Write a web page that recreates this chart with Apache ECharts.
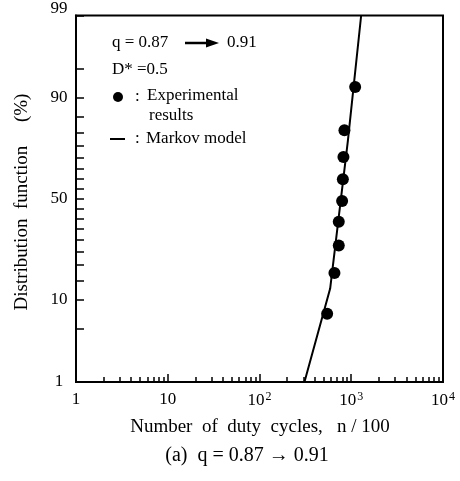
<!DOCTYPE html>
<html>
<head>
<meta charset="utf-8">
<script src="https://cdn.jsdelivr.net/npm/echarts@6/dist/echarts.min.js"></script>
<style>
  html, body { margin: 0; padding: 0; background: #fff; }
  #chart { width: 460px; height: 481px; }
</style>
</head>
<body>
<div id="chart"></div>
<script>
// 实验数据 (横轴: n/100, 纵轴: 分布函数 %)
const cyclesExp = [546, 656, 731, 731, 795, 810, 822, 843, 1103];
const probExp = [7.2, 17.3, 27.6, 38.5, 48.9, 59.8, 70.2, 80.8, 92.2];
// Markov model 曲线
const cyclesModel = [309, 589, 918, 1282];
const probModel = [1, 12.7, 76.8, 99];
// 刻度
const yLabelValues = [1, 10, 50, 90, 99];
const yTickValues = [1, 5, 10, 15, 20, 25, 30, 35, 40, 45, 50, 55, 60, 65, 70, 75, 80, 85, 90, 95, 99];
const xLabelValues = [1, 10, 100, 1000, 10000];
const xMinorTicks = [2, 3, 4, 5, 6, 7, 8, 9, 20, 30, 40, 50, 60, 70, 80, 90,
    200, 300, 400, 500, 600, 700, 800, 900, 2000, 3000, 4000, 5000, 6000, 7000, 8000, 9000];

const FONT = '"Liberation Serif", "DejaVu Serif", serif';

// 正态分布逆函数 (概率纸坐标)
function probit(pct) {
    const p = pct / 100;
    const a = [-39.69683028665376, 220.9460984245205, -275.9285104469687, 138.3577518672690, -30.66479806614716, 2.506628277459239];
    const b = [-54.47609879822406, 161.5858368580409, -155.6989798598866, 66.80131188771972, -13.28068155288572];
    const c = [-0.007784894002430293, -0.3223964580411365, -2.400758277161838, -2.549732539343734, 4.374664141464968, 2.938163982698783];
    const d = [0.007784695709041462, 0.3224671290700398, 2.445134137142996, 3.754408661907416];
    const pl = 0.02425;
    let q, r;
    if (p < pl) {
        q = Math.sqrt(-2 * Math.log(p));
        return (((((c[0]*q+c[1])*q+c[2])*q+c[3])*q+c[4])*q+c[5]) / ((((d[0]*q+d[1])*q+d[2])*q+d[3])*q+1);
    } else if (p <= 1 - pl) {
        q = p - 0.5; r = q * q;
        return (((((a[0]*r+a[1])*r+a[2])*r+a[3])*r+a[4])*r+a[5])*q / (((((b[0]*r+b[1])*r+b[2])*r+b[3])*r+b[4])*r+1);
    } else {
        q = Math.sqrt(-2 * Math.log(1 - p));
        return -(((((c[0]*q+c[1])*q+c[2])*q+c[3])*q+c[4])*q+c[5]) / ((((d[0]*q+d[1])*q+d[2])*q+d[3])*q+1);
    }
}

const zMin = probit(1), zMax = probit(99);
const expData = cyclesExp.map((v, i) => [v, probit(probExp[i])]);
const modelData = cyclesModel.map((v, i) => [v, probit(probModel[i])]);

function textEl(x, y, text, size, align) {
    return {
        type: 'text', x: x, y: y,
        style: { text: text, fontSize: size, fontFamily: FONT, fill: '#000',
                 textAlign: align || 'left', textVerticalAlign: 'middle' }
    };
}

let chart = echarts.init(document.getElementById('chart'), null, { renderer: 'canvas' });
chart.setOption({
    backgroundColor: '#fff',
    animation: false,
    grid: {
        left: 76, right: 17, top: 14, bottom: 99,
        show: true, borderColor: '#000', borderWidth: 2
    },
    xAxis: [{
        type: 'log', logBase: 10, min: 1, max: 10000,
        axisLine: { show: true, onZero: false, lineStyle: { color: '#000', width: 2 } },
        axisTick: { show: true, inside: true, length: 8, customValues: xLabelValues,
                    lineStyle: { color: '#000', width: 1.5 } },
        axisLabel: {
            customValues: xLabelValues, margin: 9, color: '#000',
            fontSize: 17, fontFamily: FONT,
            formatter: function (v) {
                const e = Math.round(Math.log10(v));
                if (e === 0) return '1';
                if (e === 1) return '10';
                return '10{sup|' + e + '}';
            },
            rich: { sup: { fontSize: 12, fontFamily: FONT, color: '#000', padding: [0, 0, 7, 1] } }
        },
        splitLine: { show: false }
    }, {
        // 次刻度
        type: 'log', logBase: 10, min: 1, max: 10000, position: 'bottom',
        axisLine: { show: false, onZero: false },
        axisTick: { show: true, inside: true, length: 5, customValues: xMinorTicks,
                    lineStyle: { color: '#000', width: 1.5 } },
        axisLabel: { show: false },
        splitLine: { show: false }
    }],
    yAxis: {
        type: 'value', min: zMin, max: zMax,
        axisLine: { show: true, onZero: false, lineStyle: { color: '#000', width: 2 } },
        axisTick: { show: true, inside: true, length: 8, customValues: yTickValues.map(probit),
                    lineStyle: { color: '#000', width: 1.5 } },
        axisLabel: {
            customValues: yLabelValues.map(probit), margin: 17, align: 'center',
            color: '#000', fontSize: 17, fontFamily: FONT,
            formatter: function (v) {
                let best = 0;
                yLabelValues.forEach((p, i) => {
                    if (Math.abs(probit(p) - v) < Math.abs(probit(yLabelValues[best]) - v)) best = i;
                });
                const s = String(yLabelValues[best]);
                return yLabelValues[best] === 99 ? '{top|' + s + '}' : s;
            },
            rich: { top: { fontSize: 17, fontFamily: FONT, color: '#000', padding: [0, 0, 14, 0] } }
        },
        splitLine: { show: false }
    },
    series: [{
        type: 'line', name: 'Markov model', data: modelData,
        xAxisIndex: 0, symbol: 'none', silent: true,
        lineStyle: { color: '#000', width: 2 }
    }, {
        type: 'scatter', name: 'Experimental results', data: expData,
        xAxisIndex: 0, symbol: 'circle', symbolSize: 12,
        itemStyle: { color: '#000', opacity: 1 }
    }],
    graphic: [
        textEl(112, 43, 'q = 0.87', 17),
        { type: 'line', shape: { x1: 185, y1: 43, x2: 209, y2: 43 }, style: { stroke: '#000', lineWidth: 2.5 } },
        { type: 'polygon', shape: { points: [[206, 38.5], [219, 43], [206, 47.5]] }, style: { fill: '#000' } },
        textEl(227, 43, '0.91', 17),
        textEl(112, 70, 'D* =0.5', 17),
        { type: 'circle', shape: { cx: 118, cy: 97, r: 5 }, style: { fill: '#000' } },
        textEl(135, 97, ':', 17),
        textEl(147, 96, 'Experimental', 17),
        textEl(149, 116, 'results', 17),
        { type: 'line', shape: { x1: 110, y1: 139, x2: 125, y2: 139 }, style: { stroke: '#000', lineWidth: 2 } },
        textEl(135, 139, ':', 17),
        textEl(146, 139, 'Markov model', 17),
        {
            type: 'text', x: 22, y: 202, rotation: Math.PI / 2,
            style: { text: 'Distribution  function     (%)', fontSize: 19, fontFamily: FONT, fill: '#000',
                     textAlign: 'center', textVerticalAlign: 'middle' }
        },
        textEl(260, 427, 'Number  of  duty  cycles,   n / 100', 19, 'center'),
        textEl(247, 456, '(a)  q = 0.87 \u2192 0.91', 20, 'center')
    ]
});
</script>
</body>
</html>
